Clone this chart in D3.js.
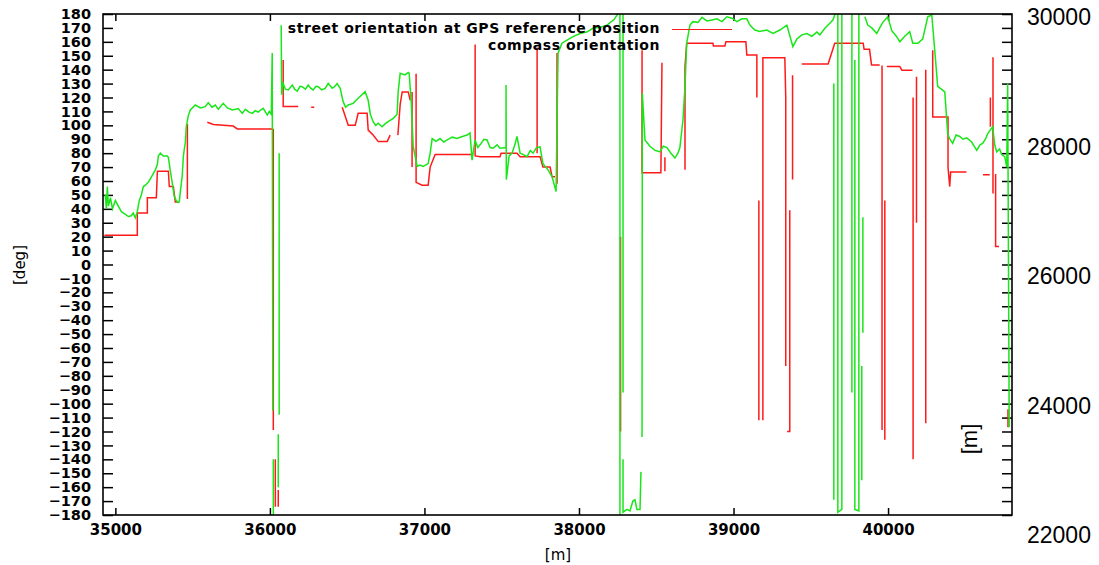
<!DOCTYPE html>
<html><head><meta charset="utf-8">
<script src="https://cdn.jsdelivr.net/npm/d3@7"></script>
<style>
html,body{margin:0;padding:0;background:#fff;}
svg{display:block;}
</style></head>
<body>
<svg id="c" width="1099" height="565"></svg>
<script>
// ---------- data ----------
const xTicks = [35000, 36000, 37000, 38000, 39000, 40000];
const yTicks = d3.range(-180, 181, 10);
const y2Labels = [30000, 28000, 26000, 24000, 22000];
const legendLabels = ["street orientation at GPS reference position", "compass orientation"];

// street orientation at GPS reference position: [m, deg], null = break
const streetOrientation = [
 [34929,21],[35142,21],[35142,37],[35207,37],[35207,48],[35265,48],[35272,67],[35343,67],[35349,56],[35375,56],[35388,45],[35407,45], null,
 [35466,47],[35466,101], null,
 [35595,102.2],[35634,100.6],[35763,99.5],[35789,97.4],[36015,97.4],[36022,97],[36022,-119], null,
 [36035,-140],[36035,-174], null,
 [36054,-162],[36054,-174], null,
 [36086,147],[36086,113.5],[36183,113.5], null,
 [36267,113],[36287,113], null,
 [36468,113],[36507,100],[36552,100],[36571,108.6],[36629,108.6],[36636,96.6],[36668,93],[36701,88.3],[36759,88.3],[36778,93], null,
 [36828,93],[36843,115],[36856,124],[36895,124],[36908,118], null,
 [36920,124],[36920,70], null,
 [36946,137],[36946,59],[36985,57],[37024,57],[37037,70],[37069,79],[37315,79], null,
 [37328,158],[37328,78],[37360,77.5],[37489,77.5],[37496,80],[37599,80],[37619,77.5],[37748,77.5],[37767,70],[37813,70],[37826,63],[37845,63], null,
 [37729,156],[37729,80], null,
 [37858,152],[37858,58], null,
 [38269,20],[38269,-120], null,
 [38408,154],[38408,66],[38530,66],[38537,145], null,
 [38556,77],[38556,67], null,
 [38686,68],[38686,142],[38697,159],[38867,159],[38870,157],[38944,157],[38951,160],[39080,160],[39086,150.5],[39151,150.5],[39151,120], null,
 [39164,46],[39164,-112], null,
 [39190,-112],[39190,148.6],[39332,148.6],[39338,120],[39338,-73], null,
 [39364,39],[39364,-120],[39347,-120], null,
 [39382,136],[39382,61], null,
 [39442,144],[39612,144],[39655,159],[39839,159],[39845,154.6],[39880,154.6],[39893,143.4],[39946,143.4], null,
 [39961,143],[39961,-119], null,
 [39979,46],[39979,-126], null,
 [39992,142.2],[40076,142.2],[40090,139.5],[40158,139.5], null,
 [40162,120],[40162,-140], null,
 [40184,135],[40184,30], null,
 [40244,140],[40244,-114], null,
 [40289,154],[40289,106],[40378,106],[40388,106],[40388,70],[40399,56],[40405,66.5],[40507,66.5], null,
 [40614,64.5],[40658,64.5], null,
 [40662,120],[40662,99], null,
 [40679,149],[40679,51], null,
 [40696,65],[40696,13],[40718,13], null,
 [40776,-104],[40776,-117]
];

// compass orientation: [m, deg], null = break
const compassOrientation = [
 [34935,50],[34942,40],[34948,56],[34955,42],[34968,48],[34981,40],[35000,46],[35019,42],[35039,38],[35065,36],[35084,34.5],[35103,35],[35116,37],[35129,33.5],[35142,38],[35155,46],[35168,50],[35181,56],[35194,57],[35213,59],[35239,64],[35259,68],[35272,72],[35278,78],[35291,80],[35310,78],[35336,78],[35343,77],[35356,67],[35369,58],[35381,49],[35394,46],[35407,44.5],[35414,45],[35420,52],[35433,64],[35440,78],[35453,88],[35459,99],[35472,107],[35485,111],[35517,114.6],[35550,112.5],[35582,113.4],[35601,116.3],[35625,113],[35647,114.6],[35666,111.5],[35698,115.8],[35725,112.5],[35757,111],[35795,112],[35821,108.6],[35841,111.5],[35865,109.5],[35886,108.6],[35905,110.5],[35925,109.5],[35940,111],[35957,112.2],[35983,107.4],[35996,110],[36009,108],[36015,152],[36019,-105], null,
 [36022,-140],[36022,-180], null,
 [36060,80],[36060,-108], null,
 [36054,-122],[36054,-160], null,
 [36073,172],[36076,122],[36086,130],[36100,126],[36119,125.4],[36145,129],[36160,126],[36177,124.5],[36195,128],[36209,127.8],[36230,126],[36248,129],[36265,126.5],[36280,125.4],[36298,128],[36313,127.8],[36335,125.5],[36358,126.6],[36377,130.2],[36403,126.6],[36420,128],[36435,130],[36455,126.6],[36474,117],[36490,113],[36507,114.6],[36539,115.8],[36571,119.4],[36595,122],[36616,124.2],[36636,118],[36650,108],[36668,102.6],[36685,100],[36701,101.5],[36726,99],[36745,101],[36765,102.6],[36798,105],[36823,108],[36830,124],[36843,137.4],[36875,136.2],[36895,138],[36901,137.5],[36915,116],[36927,85],[36953,70.5],[36970,71.5],[36992,70.5],[37024,72.5],[37037,80],[37050,90.5],[37075,88.5],[37101,90.5],[37125,88],[37147,89.5],[37180,91.5],[37211,90.5],[37245,92],[37276,93],[37295,94.5],[37308,75],[37328,89.5],[37345,84],[37360,86],[37385,90],[37405,89.5],[37425,84],[37444,83.5],[37470,86],[37489,83.5],[37528,84],[37528,129],[37530,61],[37548,78],[37567,80],[37585,86],[37599,92],[37619,80],[37640,79],[37664,77.5],[37685,82],[37703,80],[37725,84],[37748,84.5],[37767,72.5],[37800,68],[37826,63],[37852,52.5],[37858,104],[37865,152],[37890,159],[37923,161.3],[37961,163.7],[38007,166],[38050,167],[38091,169.7],[38140,170.5],[38181,172],[38227,176],[38246,179.3],[38252,180], null,
 [38265,180],[38265,-180], null,
 [38285,180],[38285,-92], null,
 [38285,-140],[38285,-178],[38311,-176],[38330,-177],[38349,-170],[38362,-169],[38375,-176],[38395,-176],[38401,-149], null,
 [38408,-124],[38410,123],[38427,89.5],[38445,87],[38459,85],[38492,82],[38524,81],[38545,85],[38569,84],[38595,80],[38621,76.5],[38640,80],[38653,84],[38673,104],[38686,128],[38697,159],[38718,172],[38737,174.5],[38770,174],[38796,177.6],[38828,175],[38860,175.7],[38893,176.5],[38925,174.5],[38957,178],[38990,177],[39022,174.5],[39054,176.5],[39086,176.5],[39106,172],[39138,168.5],[39170,167.5],[39216,168.5],[39255,166],[39300,168.5],[39345,172],[39378,159],[39384,156.5],[39410,162],[39442,165],[39474,166],[39507,164],[39539,167],[39559,165],[39591,169.7],[39623,173.3],[39643,175.7],[39655,179.3],[39660,180], null,
 [39649,130],[39649,-169], null,
 [39675,180],[39675,-178],[39701,-176],[39701,180], null,
 [39766,180],[39766,-92], null,
 [39785,147],[39785,-176],[39811,-177],[39811,180], null,
 [39837,34],[39837,-49], null,
 [39830,-73],[39830,-155], null,
 [39850,178],[39869,172],[39895,170],[39927,166],[39946,170],[39966,174],[39998,178],[40024,168],[40056,163.7],[40076,160],[40108,164],[40140,167.3],[40160,159],[40192,159],[40224,162],[40257,178],[40283,179.3],[40302,154],[40321,128],[40345,126],[40367,124],[40386,94],[40400,90],[40418,87],[40440,93],[40464,92],[40485,90],[40509,91],[40541,88],[40574,82],[40595,86],[40612,87],[40630,90],[40645,94],[40677,99],[40690,86],[40703,81],[40722,83],[40735,79],[40755,77.5],[40768,70],[40774,130],[40784,-117]
];

// ---------- drawing ----------
const svg = d3.select("#c");
const L = 103, R = 1012, T = 14, B = 515;
const x = d3.scaleLinear().domain([34920, 40802]).range([L, R]);
const y = d3.scaleLinear().domain([-180, 180]).range([B, T]);
const y2 = d3.scaleLinear().domain([22000, 30000]).range([537, 19]);

const tickFont = "DejaVu Sans";
// left axis
const gL = svg.append("g").attr("transform", `translate(${L},0)`)
  .call(d3.axisLeft(y).tickValues(yTicks).tickSizeInner(-10).tickSizeOuter(0).tickPadding(12).tickFormat(d3.format("d")));
gL.select(".domain").remove();
gL.selectAll("text").attr("font-family", tickFont).attr("font-weight", "bold").attr("font-size", 14.5).attr("fill", "#000");
gL.selectAll("line").attr("stroke", "#000").attr("stroke-width", 1.5);
// right ticks
const gR = svg.append("g").attr("transform", `translate(${R},0)`)
  .call(d3.axisRight(y).tickValues(yTicks).tickSizeInner(-10).tickSizeOuter(0).tickFormat(""));
gR.select(".domain").remove();
gR.selectAll("line").attr("stroke", "#000").attr("stroke-width", 1.5);
// bottom axis
const gB = svg.append("g").attr("transform", `translate(0,${B})`)
  .call(d3.axisBottom(x).tickValues(xTicks).tickSizeInner(-7).tickSizeOuter(0).tickPadding(9).tickFormat(d3.format("d")));
gB.select(".domain").remove();
gB.selectAll("text").attr("font-family", tickFont).attr("font-weight", "bold").attr("font-size", 15).attr("fill", "#000");
gB.selectAll("line").attr("stroke", "#000").attr("stroke-width", 1.5);
// top ticks
const gT = svg.append("g").attr("transform", `translate(0,${T})`)
  .call(d3.axisTop(x).tickValues(xTicks).tickSizeInner(-7).tickSizeOuter(0).tickFormat(""));
gT.select(".domain").remove();
gT.selectAll("line").attr("stroke", "#000").attr("stroke-width", 1.5);

// data lines
svg.append("clipPath").attr("id", "pc").append("rect")
  .attr("x", L).attr("y", T - 1).attr("width", R - L).attr("height", B - T + 2);
const line = d3.line().defined(d => d !== null).x(d => x(d[0])).y(d => y(d[1]));
const gD = svg.append("g").attr("clip-path", "url(#pc)");
gD.append("path").datum(streetOrientation).attr("d", line)
  .attr("fill", "none").attr("stroke", "#ff1a1a").attr("stroke-width", 1.5);
gD.append("path").datum(compassOrientation).attr("d", line)
  .attr("fill", "none").attr("stroke", "#19e619").attr("stroke-width", 1.5);

// frame
svg.append("rect").attr("x", L).attr("y", T).attr("width", R - L).attr("height", B - T)
  .attr("fill", "none").attr("stroke", "#000").attr("stroke-width", 1.6);

// legend
svg.append("text").attr("x", 660).attr("y", 29).attr("text-anchor", "end").attr("dominant-baseline", "middle")
  .attr("font-family", tickFont).attr("font-weight", "bold").attr("font-size", 14).attr("letter-spacing", 0.55).text(legendLabels[0]);
svg.append("text").attr("x", 660).attr("y", 45.5).attr("text-anchor", "end").attr("dominant-baseline", "middle")
  .attr("font-family", tickFont).attr("font-weight", "bold").attr("font-size", 14).attr("letter-spacing", 0.55).text(legendLabels[1]);
svg.append("line").attr("x1", 672).attr("x2", 732).attr("y1", 29.5).attr("y2", 29.5)
  .attr("stroke", "#ff1a1a").attr("stroke-width", 1.2);

// axis titles
svg.append("text").attr("x", 558).attr("y", 555).attr("text-anchor", "middle").attr("dominant-baseline", "middle")
  .attr("font-family", tickFont).attr("font-size", 15).text("[m]");
svg.append("text").attr("transform", "translate(20,265) rotate(-90)").attr("text-anchor", "middle").attr("dominant-baseline", "middle")
  .attr("font-family", tickFont).attr("font-size", 15).text("[deg]");

// right-side labels
svg.append("g").selectAll("text").data(y2Labels).join("text")
  .attr("x", 1027).attr("y", d => y2(d)).attr("dominant-baseline", "middle")
  .attr("font-family", "Liberation Sans").attr("font-size", 23).text(d => d);
svg.append("text").attr("transform", "translate(971,439) rotate(-90)").attr("text-anchor", "middle").attr("dominant-baseline", "middle")
  .attr("font-family", "Liberation Sans").attr("font-size", 22).text("[m]");
</script>
</body></html>
